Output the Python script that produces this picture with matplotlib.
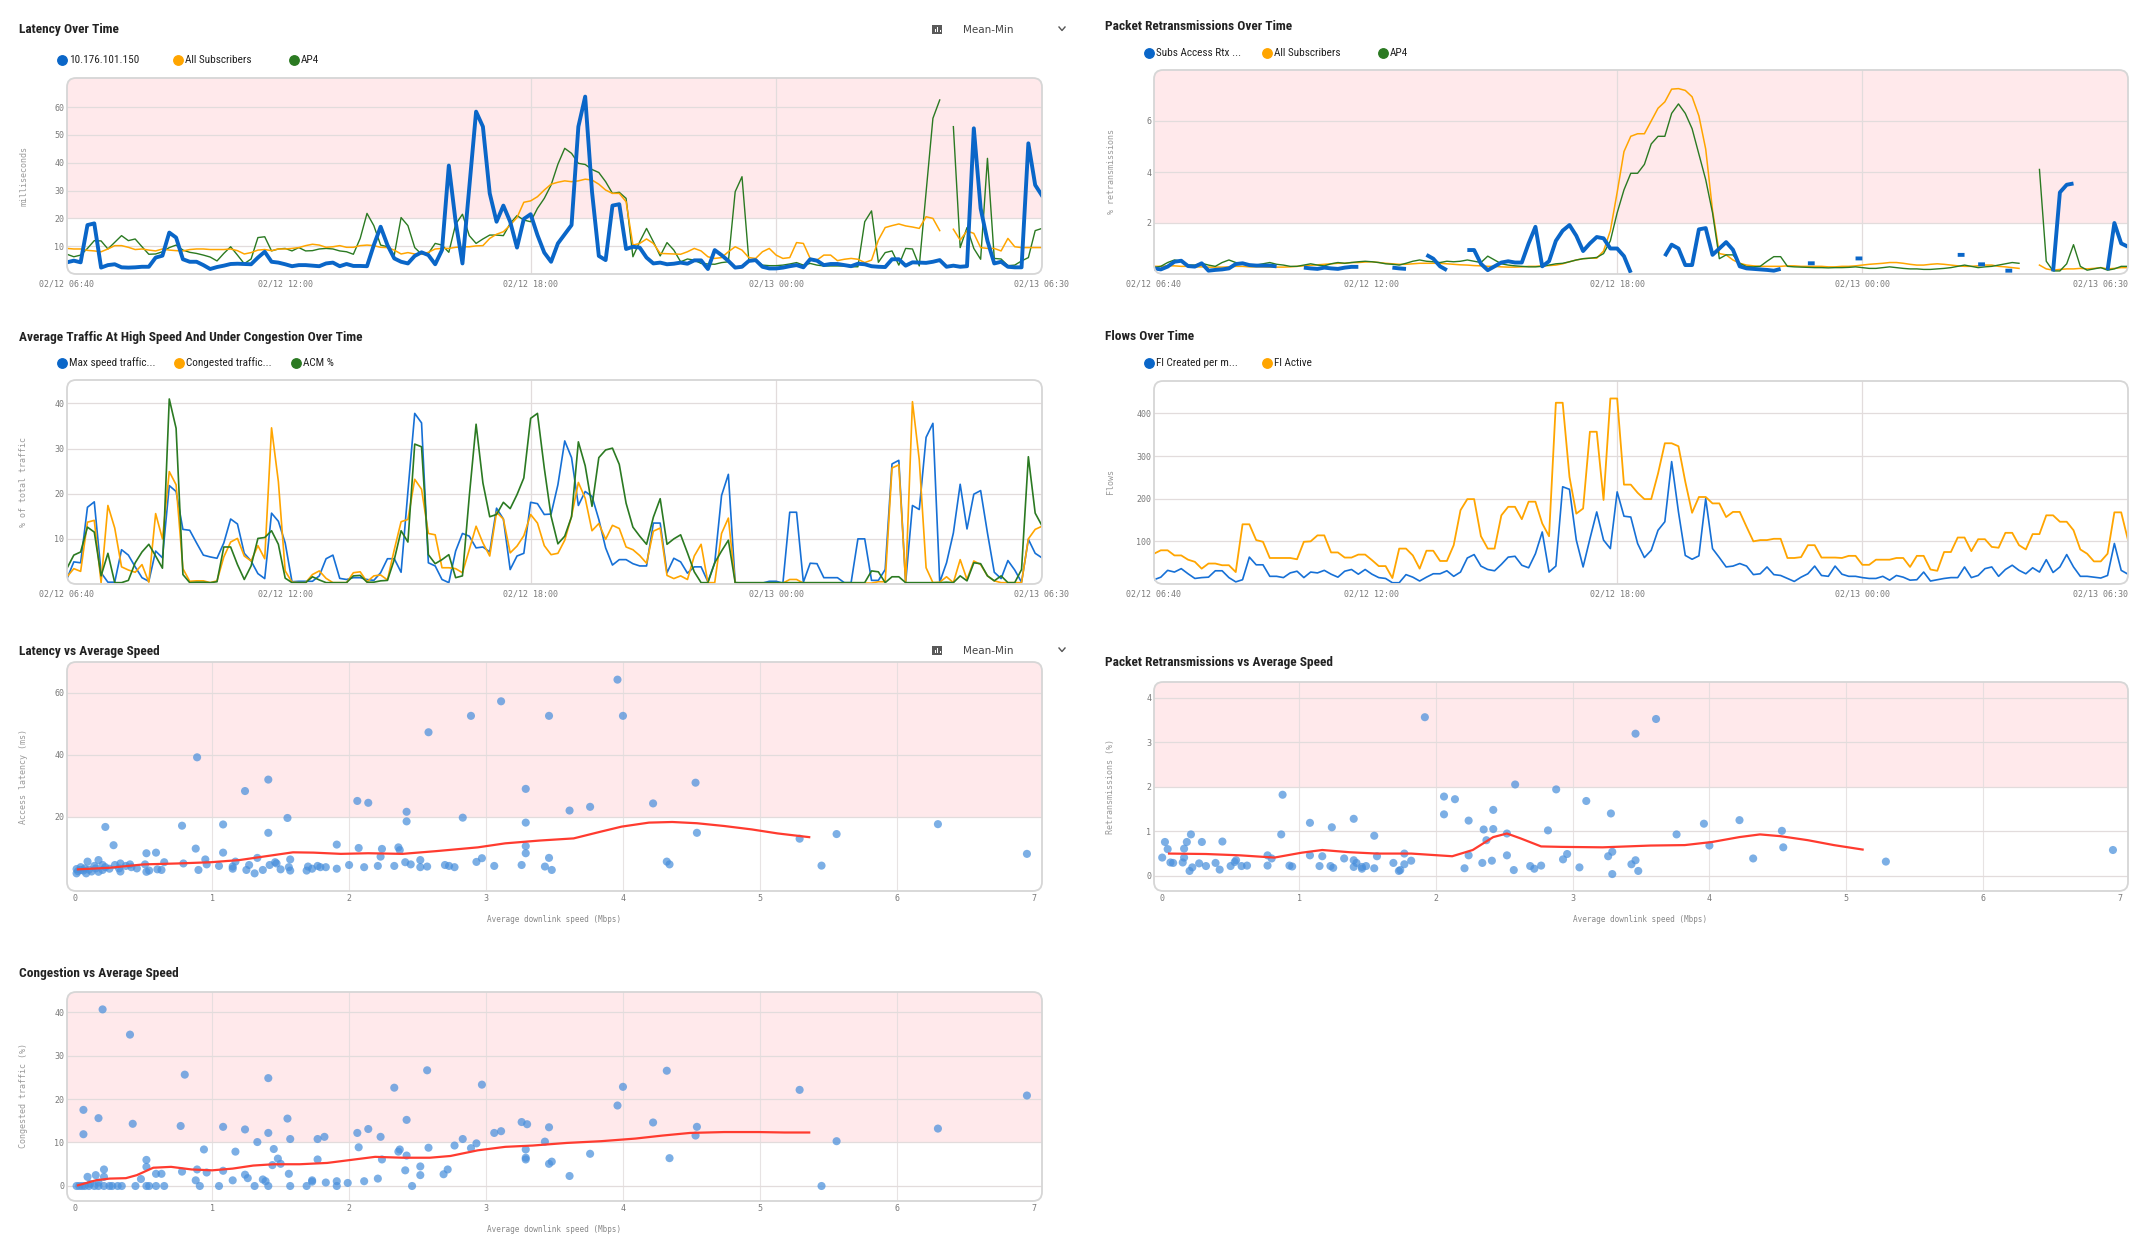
import numpy as np
import pandas as pd
import matplotlib
matplotlib.use("Agg")
import matplotlib.pyplot as plt
import matplotlib.dates as mdates
from matplotlib.lines import Line2D
from matplotlib.patches import Rectangle, FancyBboxPatch
from matplotlib import font_manager

nan = np.nan

# ---------------- time series data (10-minute bins) ----------------
times = pd.date_range("2024-02-12 06:40", periods=144, freq="10min")
time_tick_times = ["2024-02-12 06:40", "2024-02-12 12:00", "2024-02-12 18:00",
                   "2024-02-13 00:00", "2024-02-13 06:30"]
time_tick_labels = ["02/12 06:40", "02/12 12:00", "02/12 18:00", "02/13 00:00", "02/13 06:30"]
time_vgrid = ["2024-02-12 18:00", "2024-02-13 00:00"]

lat_host = [4.2, 4.8, 4.2, 17.6, 18.2, 2.3, 3.2, 3.5, 2.4, 2.3,
            2.4, 2.6, 2.6, 5.9, 6.6, 14.9, 13.1, 5.3, 4.4, 4.4,
            3.2, 1.8, 2.5, 3.0, 3.6, 3.7, 3.6, 3.5, 5.9, 8.0,
            4.4, 4.1, 3.5, 2.8, 3.2, 3.2, 3.0, 2.8, 3.8, 4.1,
            2.8, 3.6, 2.9, 2.9, 2.8, 10.4, 17.0, 10.4, 5.6, 4.4,
            3.8, 6.5, 7.8, 6.8, 3.5, 8.6, 39.0, 18.8, 3.8, 31.0,
            58.4, 53.0, 29.0, 18.8, 24.6, 18.8, 9.5, 19.8, 21.5, 14.0,
            7.7, 4.4, 11.0, 14.3, 17.6, 53.0, 63.8, 29.6, 6.5, 5.0,
            24.6, 25.1, 9.0, 9.8, 9.5, 5.9, 3.8, 4.1, 3.5, 3.7,
            4.1, 3.7, 4.9, 4.9, 1.8, 8.6, 6.8, 4.7, 2.3, 2.6,
            4.7, 5.0, 2.6, 2.0, 2.0, 2.3, 2.8, 3.2, 2.4, 5.3,
            4.8, 3.2, 3.6, 3.6, 3.2, 2.8, 3.7, 3.5, 2.8, 2.6,
            2.5, 5.3, 5.3, 3.0, 4.2, 4.1, 4.0, 4.4, 5.0, 2.6,
            3.0, 2.6, 2.8, 52.4, 23.6, 11.9, 3.8, 4.4, 2.6, 2.4,
            2.4, 47.0, 32.0, 28.2]
lat_all = [9.2, 9.0, 9.0, 8.5, 8.3, 8.0, 9.0, 10.2, 10.2, 9.6,
           8.8, 9.0, 8.6, 8.3, 9.0, 8.6, 8.4, 8.3, 8.8, 9.0,
           9.0, 8.8, 8.8, 8.8, 9.0, 8.4, 7.2, 7.7, 8.6, 8.8,
           8.4, 9.0, 9.0, 9.2, 9.5, 10.2, 10.7, 10.4, 9.6, 9.8,
           10.2, 9.6, 9.6, 10.2, 10.4, 10.2, 9.6, 9.5, 8.6, 7.2,
           7.7, 7.2, 7.1, 7.8, 9.0, 9.2, 9.2, 9.6, 9.8, 9.8,
           10.1, 10.2, 12.8, 14.3, 15.2, 17.6, 20.3, 25.8, 26.3, 27.8,
           30.2, 32.3, 33.0, 33.5, 33.2, 33.5, 34.1, 33.8, 32.3, 30.2,
           29.0, 29.0, 26.0, 10.4, 11.0, 12.6, 11.0, 7.4, 7.3, 7.2,
           7.1, 8.0, 9.2, 8.3, 6.2, 5.6, 5.9, 8.0, 9.8, 8.6,
           5.9, 5.6, 8.0, 9.2, 6.8, 5.6, 5.9, 11.3, 11.0, 5.6,
           5.0, 6.8, 6.8, 4.8, 5.3, 5.6, 5.3, 4.1, 5.0, 12.2,
           16.7, 17.4, 18.0, 17.3, 16.9, 16.4, 20.6, 20.0, 15.6, nan,
           16.1, 12.2, 15.5, 14.6, 9.5, 9.2, 9.2, 8.3, 12.8, 9.8,
           9.5, 9.5, 9.5, 9.5]
lat_ap4 = [7.1, 6.2, 6.8, 9.2, 12.0, 11.9, 9.0, 11.4, 13.8, 12.0,
           12.6, 9.8, 7.1, 7.2, 8.0, 9.5, 10.4, 8.6, 7.8, 7.4,
           6.8, 6.1, 4.7, 7.4, 9.8, 6.8, 3.7, 5.4, 13.1, 13.4,
           8.3, 9.0, 9.2, 8.3, 9.5, 8.3, 8.4, 9.0, 9.2, 9.0,
           8.3, 8.0, 7.1, 12.8, 21.8, 17.4, 10.4, 9.8, 6.8, 20.3,
           17.4, 9.5, 7.1, 7.4, 11.0, 10.4, 7.8, 17.9, 21.5, 13.8,
           11.0, 12.6, 14.0, 14.0, 13.8, 18.2, 21.0, 19.4, 18.8, 23.6,
           27.2, 32.0, 39.5, 45.2, 43.4, 39.8, 39.4, 37.6, 36.5, 33.2,
           29.0, 29.4, 27.2, 6.2, 11.6, 16.4, 11.6, 6.5, 11.3, 8.6,
           4.4, 5.4, 5.0, 3.8, 3.6, 3.5, 4.1, 4.4, 29.6, 35.0,
           5.0, 5.0, 3.2, 3.0, 3.0, 3.2, 3.6, 4.1, 3.2, 3.8,
           3.2, 2.9, 2.9, 2.9, 2.9, 2.6, 2.6, 18.8, 22.7, 4.2,
           7.7, 8.3, 3.2, 9.2, 9.0, 2.9, 29.6, 56.0, 62.6, nan,
           53.0, 9.5, 16.7, 9.2, 5.3, 41.6, 5.6, 5.4, 3.0, 3.2,
           4.7, 5.9, 15.6, 16.4]

rtx_subs = [0.22, 0.18, 0.29, 0.48, 0.52, 0.31, 0.29, 0.42, 0.13, 0.16,
            0.18, 0.22, 0.39, 0.42, 0.35, 0.33, 0.33, 0.33, 0.30, nan,
            nan, nan, 0.25, 0.22, 0.20, 0.25, 0.22, 0.20, 0.25, 0.28,
            0.28, nan, nan, nan, nan, 0.25, 0.22, 0.20, nan, nan,
            0.75, 0.60, 0.30, 0.15, nan, nan, 0.94, 0.94, 0.40, 0.15,
            0.30, 0.45, 0.50, 0.45, 0.45, 1.20, 1.85, 0.30, 0.50, 1.30,
            1.70, 1.92, 1.50, 0.90, 1.20, 1.45, 1.40, 1.00, 1.00, 0.70,
            0.05, nan, nan, nan, nan, 0.70, 1.15, 1.00, 0.35, 0.35,
            1.75, 1.80, 0.75, 1.00, 1.25, 0.95, 0.30, 0.22, 0.20, 0.18,
            0.16, 0.13, 0.20, nan, nan, nan, 0.42, 0.42, nan, nan,
            nan, nan, nan, 0.61, 0.61, nan, nan, nan, nan, nan,
            nan, nan, nan, nan, nan, nan, nan, nan, 0.75, 0.75,
            nan, 0.38, 0.38, nan, nan, 0.13, 0.13, nan, nan, nan,
            nan, nan, 0.10, 3.20, 3.50, 3.55, nan, nan, nan, nan,
            0.15, 2.00, 1.20, 1.07]
rtx_all = [0.30, 0.30, 0.32, 0.32, 0.30, 0.30, 0.28, 0.28, 0.27, 0.27,
           0.27, 0.28, 0.30, 0.30, 0.28, 0.28, 0.28, 0.27, 0.27, 0.27,
           0.28, 0.30, 0.32, 0.34, 0.36, 0.38, 0.40, 0.42, 0.42, 0.45,
           0.45, 0.47, 0.48, 0.45, 0.42, 0.40, 0.38, 0.38, 0.40, 0.42,
           0.42, 0.42, 0.42, 0.40, 0.38, 0.36, 0.35, 0.33, 0.32, 0.30,
           0.30, 0.28, 0.27, 0.27, 0.28, 0.30, 0.30, 0.32, 0.33, 0.35,
           0.40, 0.48, 0.55, 0.60, 0.62, 0.62, 0.90, 1.70, 3.20, 4.80,
           5.40, 5.50, 5.50, 6.00, 6.50, 6.75, 7.25, 7.27, 7.20, 6.95,
           6.20, 4.90, 2.50, 0.80, 0.75, 0.55, 0.42, 0.35, 0.32, 0.30,
           0.30, 0.30, 0.30, 0.32, 0.32, 0.30, 0.30, 0.30, 0.30, 0.28,
           0.28, 0.30, 0.30, 0.32, 0.35, 0.38, 0.40, 0.42, 0.45, 0.45,
           0.42, 0.38, 0.35, 0.35, 0.38, 0.40, 0.38, 0.35, 0.32, 0.30,
           0.30, 0.32, 0.35, 0.35, 0.30, 0.28, 0.25, 0.22, nan, nan,
           0.35, 0.20, 0.15, 0.18, 0.20, 0.20, 0.22, 0.20, 0.22, 0.25,
           0.20, 0.22, 0.25, 0.25]
rtx_ap4 = [0.25, 0.30, 0.45, 0.55, 0.50, 0.35, 0.35, 0.42, 0.35, 0.30,
           0.45, 0.55, 0.45, 0.40, 0.35, 0.35, 0.40, 0.45, 0.38, 0.35,
           0.30, 0.30, 0.35, 0.40, 0.35, 0.32, 0.40, 0.45, 0.42, 0.45,
           0.48, 0.50, 0.48, 0.45, 0.40, 0.38, 0.35, 0.42, 0.50, 0.55,
           0.50, 0.48, 0.45, 0.50, 0.48, 0.50, 0.55, 0.50, 0.45, 0.70,
           0.55, 0.40, 0.35, 0.32, 0.30, 0.28, 0.28, 0.30, 0.35, 0.40,
           0.42, 0.48, 0.55, 0.60, 0.62, 0.65, 0.80, 1.30, 2.40, 3.30,
           3.95, 3.95, 4.30, 5.10, 5.40, 5.40, 6.30, 6.67, 6.30, 5.70,
           4.70, 3.70, 2.40, 0.60, 0.75, 0.75, 0.42, 0.29, 0.28, 0.30,
           0.50, 0.68, 0.68, 0.30, 0.28, 0.27, 0.26, 0.25, 0.25, 0.24,
           0.25, 0.25, 0.26, 0.28, 0.25, 0.22, 0.22, 0.25, 0.28, 0.25,
           0.22, 0.20, 0.20, 0.18, 0.18, 0.20, 0.22, 0.25, 0.30, 0.35,
           0.30, 0.25, 0.28, 0.30, 0.35, 0.40, 0.45, 0.42, nan, nan,
           4.10, 0.50, 0.12, 0.12, 0.40, 1.15, 0.30, 0.15, 0.20, 0.25,
           0.15, 0.20, 0.30, 0.30]

trf_maxspeed = [1.2, 4.9, 4.7, 17.0, 18.2, 2.5, 0.4, 0.4, 7.6, 6.4,
                3.8, 1.4, 0.6, 7.3, 5.8, 21.8, 20.5, 12.1, 11.9, 9.1,
                6.4, 6.0, 5.7, 9.1, 14.4, 13.3, 6.8, 5.1, 2.3, 1.2,
                15.7, 13.9, 9.1, 0.5, 0.6, 0.6, 0.6, 1.8, 5.6, 6.4,
                1.25, 1.0, 1.4, 1.4, 1.0, 0.8, 2.5, 5.6, 5.6, 2.6,
                20.5, 37.8, 35.7, 4.7, 4.0, 1.0, 0.3, 7.3, 11.2, 10.6,
                8.0, 8.2, 7.1, 16.8, 14.4, 3.2, 6.2, 6.8, 18.1, 17.8,
                15.4, 15.5, 22.0, 31.7, 28.0, 17.4, 20.5, 19.4, 14.3, 8.0,
                4.2, 5.4, 5.4, 4.5, 4.0, 4.0, 13.5, 13.5, 2.5, 5.7,
                4.9, 2.4, 3.8, 3.8, 0.5, 4.7, 19.6, 24.3, 0.3, 0.2,
                0.2, 0.2, 0.2, 0.6, 0.6, 0.2, 15.9, 15.9, 0.4, 4.6,
                4.5, 1.4, 1.4, 1.4, 0.3, 0.3, 10.0, 10.0, 0.8, 0.8,
                3.2, 26.6, 27.4, 0.3, 17.4, 16.5, 32.5, 35.6, 0.4, 4.7,
                11.3, 22.1, 12.2, 19.9, 20.7, 11.3, 2.6, 1.2, 5.2, 3.1,
                0.4, 9.9, 6.8, 5.8]
trf_congested = [1.6, 3.4, 2.8, 13.7, 14.1, 0.3, 17.4, 12.4, 3.8, 3.1,
                 2.6, 4.3, 0.4, 15.6, 10.0, 24.9, 22.0, 3.4, 0.6, 0.7,
                 0.7, 0.3, 0.7, 6.0, 9.3, 10.1, 6.2, 5.1, 8.5, 5.6,
                 34.6, 22.7, 2.9, 0.4, 0.3, 0.3, 2.1, 2.9, 1.25, 0.3,
                 0.3, 0.3, 2.5, 2.7, 0.5, 1.8, 2.0, 0.9, 7.6, 13.8,
                 14.3, 23.2, 21.0, 11.2, 10.9, 3.6, 3.6, 3.4, 2.5, 7.6,
                 12.8, 9.1, 6.2, 15.9, 14.4, 6.9, 8.4, 10.7, 15.4, 13.5,
                 8.5, 6.5, 6.8, 9.7, 15.0, 22.5, 19.0, 11.8, 13.4, 9.9,
                 13.0, 12.3, 8.2, 7.6, 6.3, 4.6, 11.7, 12.4, 1.9, 1.2,
                 1.8, 1.0, 6.2, 8.8, 0.3, 0.3, 11.2, 14.6, 0.3, 0.2,
                 0.2, 0.2, 0.2, 0.2, 0.2, 0.2, 1.0, 1.0, 0.2, 0.2,
                 0.2, 0.2, 0.2, 0.2, 0.2, 0.2, 0.2, 0.2, 0.2, 0.5,
                 0.5, 25.7, 26.4, 0.3, 40.4, 27.5, 3.6, 0.3, 0.4, 1.6,
                 0.3, 5.4, 1.0, 5.1, 4.3, 1.8, 0.7, 0.3, 0.3, 0.3,
                 0.3, 10.0, 12.1, 12.8]
trf_acm = [3.5, 6.4, 7.1, 12.6, 11.5, 1.8, 6.8, 0.3, 0.3, 0.8,
           4.7, 7.1, 8.8, 6.2, 3.5, 41.0, 34.5, 2.1, 0.3, 0.4,
           0.4, 0.3, 0.5, 8.2, 8.2, 4.3, 1.0, 4.0, 10.1, 10.3,
           11.8, 8.8, 1.3, 0.3, 0.3, 0.3, 1.6, 0.9, 0.3, 0.3,
           0.3, 0.3, 1.8, 1.9, 0.4, 0.4, 0.7, 0.8, 5.4, 11.8,
           9.3, 31.0, 30.4, 6.5, 4.5, 5.4, 6.5, 1.4, 1.8, 19.4,
           35.4, 22.4, 14.9, 15.4, 18.1, 16.7, 19.8, 23.5, 36.7, 37.8,
           25.7, 15.0, 8.9, 10.6, 14.9, 31.5, 26.2, 17.2, 28.0, 29.7,
           30.1, 26.5, 17.9, 12.6, 10.6, 8.8, 14.8, 18.9, 8.8, 10.0,
           10.9, 6.9, 2.7, 0.3, 0.3, 4.7, 7.3, 9.7, 0.3, 0.3,
           0.3, 0.3, 0.3, 0.3, 0.3, 0.3, 0.3, 0.3, 0.3, 0.3,
           0.3, 0.3, 0.3, 0.3, 0.3, 0.3, 0.3, 0.3, 2.9, 2.7,
           0.3, 1.6, 1.6, 0.3, 0.3, 0.3, 0.3, 0.3, 0.3, 0.4,
           0.3, 1.8, 0.7, 4.7, 4.5, 1.8, 0.7, 1.8, 0.3, 0.3,
           3.2, 28.2, 15.7, 12.9]

flows_created = [10, 16, 32, 28, 36, 24, 13, 15, 16, 31,
                 31, 15, 5, 10, 63, 45, 45, 18, 18, 15,
                 26, 30, 15, 28, 26, 32, 23, 16, 30, 34,
                 23, 34, 23, 15, 13, 3, 3, 22, 16, 7,
                 16, 24, 24, 31, 18, 28, 61, 69, 42, 34,
                 31, 46, 63, 65, 44, 38, 71, 122, 28, 42,
                 228, 222, 103, 40, 106, 169, 103, 83, 216, 159,
                 157, 95, 62, 79, 126, 146, 287, 169, 67, 58,
                 66, 200, 83, 62, 40, 42, 48, 42, 22, 24,
                 40, 22, 20, 13, 6, 16, 24, 42, 20, 18,
                 42, 23, 18, 18, 15, 13, 13, 18, 9, 20,
                 16, 9, 10, 28, 7, 10, 13, 15, 15, 40,
                 15, 20, 36, 40, 18, 34, 44, 32, 24, 38,
                 28, 57, 27, 40, 69, 40, 18, 18, 16, 14,
                 20, 95, 32, 23]
flows_active = [71, 79, 79, 67, 67, 57, 52, 36, 48, 48,
                44, 44, 28, 140, 140, 103, 99, 61, 61, 61,
                61, 58, 99, 100, 114, 114, 74, 74, 62, 62,
                69, 69, 56, 42, 42, 14, 83, 83, 67, 36,
                78, 78, 54, 54, 91, 173, 199, 199, 112, 83,
                83, 161, 181, 181, 152, 193, 193, 142, 112, 425,
                425, 251, 165, 177, 357, 357, 197, 435, 435, 233,
                233, 214, 199, 199, 259, 330, 330, 323, 240, 167,
                204, 204, 189, 189, 157, 169, 169, 134, 100, 103,
                103, 106, 106, 61, 61, 63, 91, 91, 62, 62,
                62, 61, 66, 66, 45, 45, 57, 57, 57, 61,
                61, 40, 66, 66, 34, 31, 75, 75, 109, 109,
                77, 105, 105, 87, 85, 120, 120, 91, 81, 117,
                117, 161, 161, 146, 146, 126, 81, 71, 53, 53,
                71, 168, 168, 103]

# ---------------- scatter data ----------------
lat_speed = [3.96, 3.11, 2.89, 3.46, 4.00, 2.58, 0.89, 1.41, 4.53, 1.24,
             3.29, 2.06, 2.14, 4.22, 3.76, 3.61, 2.42, 2.83, 1.55, 0.22,
             0.78, 1.08, 2.42, 3.29, 6.30, 1.41, 4.54, 5.56, 5.29, 0.28,
             1.91, 2.07, 2.24, 2.36, 2.37, 3.29, 0.88, 0.52, 0.59, 1.08,
             3.29, 6.95, 2.23, 1.33, 3.46, 0.95, 2.97, 1.57, 0.17, 0.09,
             0.65, 0.79, 1.17, 1.46, 2.41, 2.52, 2.93, 4.32, 4.34, 0.33,
             0.40, 0.51, 0.96, 1.05, 1.15, 1.27, 1.42, 1.47, 1.70, 1.77,
             1.79, 1.83, 2.00, 2.21, 2.33, 2.45, 2.52, 2.57, 2.70, 2.73,
             2.77, 3.06, 3.26, 3.43, 3.48, 5.45, 2.11, 1.91, 1.73, 1.69,
             1.50, 1.37, 1.31, 1.25, 0.90, 0.63, 0.60, 0.54, 0.52, 0.45,
             0.33, 0.25, 0.20, 0.15, 0.17, 0.07, 0.04, 0.01, 0.02, 0.06,
             0.10, 0.12, 0.14, 0.22, 0.29, 0.32, 0.37, 0.41, 1.57, 1.56,
             1.15, 0.04, 0.01, 0.08, 0.20]
lat_ms = [64.3, 57.3, 52.6, 52.6, 52.6, 47.3, 39.2, 32.0, 31.0, 28.3,
          29.0, 25.1, 24.5, 24.3, 23.2, 22.0, 21.6, 19.7, 19.6, 16.7,
          17.1, 17.5, 18.5, 18.1, 17.6, 14.8, 14.8, 14.4, 12.9, 10.8,
          11.0, 9.9, 9.6, 10.1, 9.2, 10.5, 9.7, 8.2, 8.4, 8.4,
          8.2, 8.0, 7.1, 6.7, 6.7, 6.2, 6.6, 6.2, 6.0, 5.5,
          5.3, 4.9, 5.5, 5.3, 5.3, 6.0, 5.4, 5.5, 4.6, 4.9,
          4.6, 4.6, 4.6, 4.1, 3.9, 4.4, 4.4, 4.9, 3.9, 4.1,
          3.7, 3.7, 4.4, 4.1, 4.1, 4.6, 3.7, 3.9, 4.4, 4.1,
          3.7, 4.1, 4.4, 3.9, 2.8, 4.2, 3.7, 3.2, 3.2, 2.6,
          3.0, 2.8, 1.7, 2.8, 2.8, 2.8, 3.0, 2.6, 2.2, 3.3,
          2.3, 3.2, 2.8, 3.3, 2.2, 3.3, 2.8, 3.1, 2.4, 2.6,
          2.9, 2.3, 4.1, 3.7, 4.4, 3.3, 4.1, 3.7, 2.6, 3.7,
          3.2, 3.7, 1.7, 1.7, 4.4]
lat_trend_speed = [0.02, 0.25, 0.50, 0.75, 0.99, 1.20, 1.45, 1.59, 1.74, 1.94, 2.14, 2.39, 2.64,
                   2.94, 3.14, 3.39, 3.64, 3.84, 3.99, 4.19, 4.36, 4.54, 4.74, 4.94, 5.13, 5.36]
lat_trend_ms = [3.0, 3.5, 4.6, 4.9, 5.3, 6.0, 7.6, 8.5, 8.4, 8.0, 8.2, 8.0, 8.9,
                10.1, 11.4, 12.3, 13.0, 15.2, 16.8, 18.1, 18.3, 17.9, 17.0, 15.9, 14.6, 13.4]

rtx_speed = [1.92, 3.61, 3.46, 2.58, 2.88, 0.88, 2.06, 2.14, 3.10, 2.42,
             1.40, 4.22, 2.06, 3.28, 2.24, 1.08, 3.96, 1.24, 2.35, 2.42,
             2.82, 4.53, 0.21, 0.87, 1.55, 2.52, 3.76, 0.02, 0.18, 0.29,
             0.44, 2.37, 0.04, 0.16, 4.00, 4.54, 6.95, 3.29, 2.96, 0.00,
             0.16, 0.77, 0.80, 1.08, 1.17, 1.33, 1.57, 1.77, 2.24, 2.52,
             3.26, 2.93, 4.32, 0.06, 0.08, 0.15, 0.27, 0.39, 0.53, 0.54,
             0.62, 1.40, 1.42, 1.69, 1.82, 1.77, 2.34, 2.41, 3.46, 3.43,
             5.29, 0.32, 0.50, 0.58, 0.77, 0.93, 0.95, 1.15, 1.23, 1.25,
             1.40, 1.46, 1.49, 1.55, 2.69, 2.77, 3.05, 2.21, 0.22, 0.20,
             0.42, 1.74, 1.73, 2.57, 2.72, 3.48, 3.29, 1.46]
rtx_pct = [3.56, 3.52, 3.19, 2.05, 1.94, 1.82, 1.78, 1.72, 1.68, 1.48,
           1.28, 1.25, 1.38, 1.40, 1.24, 1.19, 1.17, 1.09, 1.04, 1.05,
           1.02, 1.01, 0.93, 0.93, 0.90, 0.95, 0.93, 0.76, 0.76, 0.76,
           0.77, 0.80, 0.60, 0.61, 0.68, 0.64, 0.58, 0.54, 0.49, 0.41,
           0.41, 0.46, 0.39, 0.46, 0.44, 0.39, 0.44, 0.50, 0.46, 0.46,
           0.44, 0.37, 0.39, 0.30, 0.29, 0.30, 0.28, 0.29, 0.31, 0.35,
           0.23, 0.35, 0.29, 0.29, 0.34, 0.26, 0.29, 0.34, 0.35, 0.26,
           0.32, 0.22, 0.22, 0.22, 0.23, 0.23, 0.21, 0.22, 0.22, 0.18,
           0.20, 0.20, 0.22, 0.17, 0.22, 0.23, 0.19, 0.17, 0.19, 0.11,
           0.14, 0.13, 0.11, 0.13, 0.16, 0.11, 0.04, 0.16]
rtx_trend_speed = [0.05, 0.32, 0.57, 0.82, 1.02, 1.17, 1.37, 1.57, 1.82, 2.12, 2.27, 2.42, 2.52,
                   2.62, 2.77, 2.92, 3.22, 3.57, 3.82, 4.02, 4.22, 4.37, 4.52, 4.72, 4.91, 5.12]
rtx_trend_pct = [0.50, 0.49, 0.46, 0.41, 0.52, 0.58, 0.53, 0.50, 0.50, 0.44, 0.58, 0.87, 0.95,
                 0.84, 0.66, 0.65, 0.64, 0.68, 0.69, 0.76, 0.87, 0.93, 0.89, 0.80, 0.69, 0.59]

cong_speed = [0.20, 0.40, 2.57, 4.32, 0.80, 1.41, 2.97, 2.33, 4.00, 5.29,
              6.95, 3.96, 0.06, 0.17, 1.55, 2.42, 0.42, 0.77, 1.08, 3.26,
              3.30, 4.22, 3.46, 4.54, 6.30, 1.24, 2.14, 3.11, 1.41, 2.06,
              3.06, 0.06, 2.23, 1.82, 1.77, 2.83, 1.57, 4.53, 1.33, 3.43,
              5.56, 2.93, 2.77, 2.07, 2.58, 2.89, 1.45, 0.94, 3.29, 1.17,
              2.36, 2.37, 2.42, 3.76, 1.48, 3.29, 3.29, 2.24, 4.34, 0.52,
              1.77, 3.48, 3.46, 1.50, 1.44, 0.52, 2.52, 0.21, 0.89, 1.08,
              2.41, 2.72, 0.78, 0.96, 0.59, 0.63, 1.56, 2.69, 1.24, 2.52,
              0.15, 0.09, 0.21, 3.61, 1.26, 0.48, 2.21, 1.37, 0.88, 1.15,
              1.39, 1.73, 1.73, 2.11, 1.83, 1.91, 1.99, 0.17, 0.11,
              0.01, 0.03, 0.05, 0.07, 0.10, 0.14, 0.17, 0.21, 0.25, 0.27,
              0.31, 0.34, 0.44, 0.52, 0.54, 0.59, 0.65, 0.91, 1.05, 1.31,
              1.41, 1.57, 1.69, 1.91, 2.46, 5.45]
cong_pct = [40.6, 34.8, 26.6, 26.5, 25.6, 24.8, 23.3, 22.6, 22.8, 22.1,
            20.8, 18.5, 17.5, 15.6, 15.5, 15.2, 14.3, 13.8, 13.6, 14.7,
            14.2, 14.6, 13.5, 13.6, 13.2, 13.0, 13.1, 12.6, 12.2, 12.2,
            12.2, 11.9, 11.3, 11.3, 10.8, 10.8, 10.8, 11.6, 10.1, 10.2,
            10.3, 9.8, 9.3, 8.9, 8.8, 8.7, 8.5, 8.4, 8.4, 7.9,
            7.9, 8.4, 7.0, 7.4, 6.3, 6.5, 6.1, 6.1, 6.4, 6.0,
            6.1, 5.6, 5.1, 5.1, 4.8, 4.4, 4.5, 3.8, 3.8, 3.5,
            3.6, 3.8, 3.3, 3.1, 2.8, 2.8, 2.8, 2.7, 2.6, 2.5,
            2.5, 2.1, 2.1, 2.3, 1.8, 1.6, 1.7, 1.5, 1.3, 1.3,
            1.1, 1.3, 1.0, 1.1, 0.8, 1.1, 0.7, 0.8, 0.5,
            0.0, 0.0, 0.0, 0.0, 0.0, 0.0, 0.0, 0.0, 0.0, 0.0,
            0.0, 0.0, 0.0, 0.0, 0.0, 0.0, 0.0, 0.0, 0.0, 0.0,
            0.0, 0.0, 0.0, 0.0, 0.0, 0.0]
cong_trend_speed = [0.02, 0.15, 0.25, 0.37, 0.45, 0.57, 0.70, 0.85, 1.00, 1.15, 1.30, 1.45, 1.64,
                    1.84, 2.04, 2.19, 2.39, 2.59, 2.74, 2.94, 3.14, 3.34, 3.59, 3.84, 4.09, 4.29,
                    4.49, 4.74, 4.99, 5.18, 5.36]
cong_trend_pct = [0.15, 1.3, 1.7, 1.8, 2.5, 4.2, 4.4, 3.8, 3.6, 4.0, 4.7, 5.0, 5.0,
                  5.3, 6.1, 6.7, 6.5, 6.5, 6.9, 8.2, 9.0, 9.3, 9.9, 10.3, 10.9, 11.6,
                  12.2, 12.4, 12.4, 12.3, 12.3]

# ---------------- styling ----------------
W, H = 2141, 1244
BLUE = "#0a66c8"
BLUE_THIN = "#1670d6"
ORANGE = "#ffa500"
GREEN = "#2b7a22"
PINK = "#ffe9eb"
GRID = "#e2dcdc"
RED = "#ff3b2f"
DOT = "#4a90dc"
TICKC = "#7a7a7a"
MONO = ["DejaVu Sans Mono"]

# pick a narrow sans family if one is installed
_available = {f.name for f in font_manager.fontManager.ttflist}
_narrow_candidates = ["Roboto Condensed", "DejaVu Sans Condensed", "Liberation Sans Narrow",
                      "Open Sans Condensed", "Noto Sans Condensed", "Roboto", "Liberation Sans"]
NARROW_NAME = next((n for n in _narrow_candidates if n in _available), "DejaVu Sans")
NARROW = [NARROW_NAME, "DejaVu Sans"]
_condensed_ttf = [f for f in font_manager.fontManager.ttflist
                  if f.name == NARROW_NAME and str(f.stretch) in ("condensed", "semi-condensed", "75", "87")]
STRETCH = "condensed" if _condensed_ttf else "normal"
IS_NARROW = ("Condensed" in NARROW_NAME or "Narrow" in NARROW_NAME or bool(_condensed_ttf))
TITLE_SIZE = 9.6 if IS_NARROW else 8.4
LEG_SIZE = 8.1 if IS_NARROW else 7.1

fig = plt.figure(figsize=(W / 100, H / 100), dpi=100)
fig.patch.set_facecolor("white")


def ax_at(l, t, r, b):
    ax = fig.add_axes([l / W, 1 - b / H, (r - l) / W, (b - t) / H])
    box = FancyBboxPatch((l / W, 1 - b / H), (r - l) / W, (b - t) / H,
                         boxstyle="round,pad=0,rounding_size=0.0042", mutation_aspect=W / H,
                         transform=fig.transFigure, fill=False, ec="#d6d6d6", lw=1.3, zorder=5)
    fig.add_artist(box)
    ax._round_box = box
    return ax


def ftext(x, y, s, **kw):
    fig.text(x / W, 1 - y / H, s, **kw)


def title(x, y, s):
    ftext(x, y, s, fontsize=TITLE_SIZE, fontweight="bold", family=NARROW, fontstretch=STRETCH,
          color="#222222", va="center", ha="left")


def ylab(x, y, s):
    ftext(x, y, s, fontsize=6, family=MONO, color="#9a9a9a", rotation=90,
          va="center", ha="center")


def legend(y, items):
    for (xm, label, c) in items:
        fig.add_artist(Line2D([xm / W], [1 - y / H], marker="o", ms=6.8, color=c,
                              transform=fig.transFigure, lw=0))
        ftext(xm + 7, y, label, fontsize=LEG_SIZE, family=NARROW, fontstretch=STRETCH,
              color="#222222", va="center", ha="left")


def dropdown(y):
    fig.add_artist(Rectangle((932 / W, 1 - (y + 4.5) / H), 10 / W, 9 / H,
                             transform=fig.transFigure, color="#5a5a5a", lw=0))
    for (bx, bh) in [(934.5, 3), (937, 5.5), (939.5, 2)]:
        fig.add_artist(Rectangle((bx / W, 1 - (y + 3) / H), 1.2 / W, bh / H,
                                 transform=fig.transFigure, color="white", lw=0))
    ftext(963, y + 1, "Mean-Min", fontsize=7.5, family=["DejaVu Sans"], color="#444444",
          va="center", ha="left")
    fig.add_artist(Line2D([1059 / W, 1062 / W, 1065 / W],
                          [1 - (y - 2) / H, 1 - (y + 1.5) / H, 1 - (y - 2) / H],
                          transform=fig.transFigure, color="#555555", lw=1.0))


def frame(ax):
    for s in ax.spines.values():
        s.set_visible(False)
    ax.tick_params(length=0, labelsize=6, labelcolor=TICKC)
    for lbl in ax.get_xticklabels() + ax.get_yticklabels():
        lbl.set_family(MONO)


def band(ax, lo, hi):
    span = ax.axhspan(lo, hi, color=PINK, lw=0, zorder=0)
    span.set_clip_path(ax._round_box)


tnum = mdates.date2num(times.to_pydatetime())
tick_nums = [mdates.date2num(pd.Timestamp(s).to_pydatetime()) for s in time_tick_times]
vgrid_nums = [mdates.date2num(pd.Timestamp(s).to_pydatetime()) for s in time_vgrid]


def time_axes(l, t, r, b, ylim, yticks, band_lo=None, last_right=False):
    ax = ax_at(l, t, r, b)
    ax.set_xlim(tnum[0], tnum[-1])
    ax.set_ylim(*ylim)
    if band_lo is not None:
        band(ax, band_lo, ylim[1])
    for v in yticks:
        ax.axhline(v, color=GRID, lw=0.9, zorder=0.5)
    for v in vgrid_nums:
        ax.axvline(v, color=GRID, lw=0.9, zorder=0.5)
    ax.set_yticks(yticks)
    ax.set_yticklabels([str(v) for v in yticks])
    ax.set_xticks(tick_nums)
    ax.set_xticklabels(time_tick_labels)
    ax.tick_params(axis="x", pad=4)
    ax.tick_params(axis="y", pad=2)
    frame(ax)
    if last_right:
        ax.get_xticklabels()[-1].set_horizontalalignment("right")
    return ax


def scatter_axes(l, t, r, b, ylim, yticks, band_lo):
    ax = ax_at(l, t, r, b)
    ax.set_xlim(-0.06, 7.06)
    ax.set_ylim(*ylim)
    band(ax, band_lo, ylim[1])
    for v in yticks:
        ax.axhline(v, color=GRID, lw=0.9, zorder=0.5)
    for v in range(1, 7):
        ax.axvline(v, color=GRID, lw=0.8, zorder=0.5, alpha=0.8)
    ax.set_yticks(yticks)
    ax.set_yticklabels([str(v) for v in yticks])
    ax.set_xticks(range(0, 8))
    ax.set_xticklabels([str(v) for v in range(0, 8)])
    ax.tick_params(axis="x", pad=2)
    ax.tick_params(axis="y", pad=2)
    frame(ax)
    return ax


# ---------- Latency Over Time ----------
title(19, 30, "Latency Over Time")
dropdown(29)
legend(60, [(62, "10.176.101.150", BLUE), (178, "All Subscribers", ORANGE), (294, "AP4", GREEN)])
ax = time_axes(67, 78, 1042, 274, (0, 70.5), [10, 20, 30, 40, 50, 60], band_lo=20)
ax.plot(tnum, lat_ap4, color=GREEN, lw=1.0, zorder=2)
ax.plot(tnum, lat_all, color=ORANGE, lw=1.1, zorder=2)
ax.plot(tnum, lat_host, color=BLUE, lw=2.8, zorder=3)
ylab(24, 176, "milliseconds")

# ---------- Packet Retransmissions Over Time ----------
title(1105, 26, "Packet Retransmissions Over Time")
legend(53, [(1149, "Subs Access Rtx ...", BLUE), (1267, "All Subscribers", ORANGE), (1383, "AP4", GREEN)])
ax = time_axes(1154, 70, 2128, 274, (0, 8.0), [2, 4, 6], band_lo=2, last_right=True)
ax.plot(tnum, rtx_all, color=ORANGE, lw=1.1, zorder=2)
ax.plot(tnum, rtx_ap4, color=GREEN, lw=1.0, zorder=2)
ax.plot(tnum, rtx_subs, color=BLUE, lw=2.8, zorder=3, solid_capstyle="butt")
ylab(1111, 172, "% retransmissions")

# ---------- Average Traffic ----------
title(19, 337, "Average Traffic At High Speed And Under Congestion Over Time")
legend(363, [(62, "Max speed traffic...", BLUE), (179, "Congested traffic...", ORANGE), (296, "ACM %", GREEN)])
ax = time_axes(67, 380, 1042, 584, (0, 45.2), [10, 20, 30, 40])
ax.plot(tnum, trf_maxspeed, color=BLUE_THIN, lw=1.2, zorder=2)
ax.plot(tnum, trf_congested, color=ORANGE, lw=1.2, zorder=2)
ax.plot(tnum, trf_acm, color=GREEN, lw=1.2, zorder=2)
ylab(24, 482, "% of total traffic")

# ---------- Flows Over Time ----------
title(1105, 337, "Flows Over Time")
legend(363, [(1149, "Fl Created per m...", BLUE), (1267, "Fl Active", ORANGE)])
ax = time_axes(1154, 381, 2128, 584, (0, 476), [100, 200, 300, 400], last_right=True)
ax.plot(tnum, flows_created, color=BLUE_THIN, lw=1.2, zorder=2)
ax.plot(tnum, flows_active, color=ORANGE, lw=1.3, zorder=2)
ylab(1111, 482, "Flows")

# ---------- Latency vs Average Speed ----------
title(19, 651, "Latency vs Average Speed")
dropdown(650)
ax = scatter_axes(67, 662, 1042, 891, (-4.0, 70), [20, 40, 60], band_lo=20)
ax.scatter(lat_speed, lat_ms, s=34, color=DOT, alpha=0.72, edgecolors="none", zorder=3)
ax.plot(lat_trend_speed, lat_trend_ms, color=RED, lw=1.6, zorder=4)
ylab(24, 777, "Access latency (ms)")
ftext(554, 920, "Average downlink speed (Mbps)", fontsize=5.5, family=MONO, color="#888888",
      ha="center", va="center")

# ---------- Packet Retransmissions vs Average Speed ----------
title(1105, 663, "Packet Retransmissions vs Average Speed")
ax = scatter_axes(1154, 682, 2128, 891, (-0.34, 4.35), [0, 1, 2, 3, 4], band_lo=2)
ax.scatter(rtx_speed, rtx_pct, s=34, color=DOT, alpha=0.72, edgecolors="none", zorder=3)
ax.plot(rtx_trend_speed, rtx_trend_pct, color=RED, lw=1.6, zorder=4)
ylab(1110, 787, "Retransmissions (%)")
ftext(1640, 920, "Average downlink speed (Mbps)", fontsize=5.5, family=MONO, color="#888888",
      ha="center", va="center")

# ---------- Congestion vs Average Speed ----------
title(19, 973, "Congestion vs Average Speed")
ax = scatter_axes(67, 992, 1042, 1201, (-3.45, 44.6), [0, 10, 20, 30, 40], band_lo=10)
ax.scatter(cong_speed, cong_pct, s=34, color=DOT, alpha=0.72, edgecolors="none", zorder=3)
ax.plot(cong_trend_speed, cong_trend_pct, color=RED, lw=1.6, zorder=4)
ylab(24, 1096, "Congested traffic (%)")
ftext(554, 1230, "Average downlink speed (Mbps)", fontsize=5.5, family=MONO, color="#888888",
      ha="center", va="center")

fig.savefig("out.png", dpi=100, facecolor="white")
